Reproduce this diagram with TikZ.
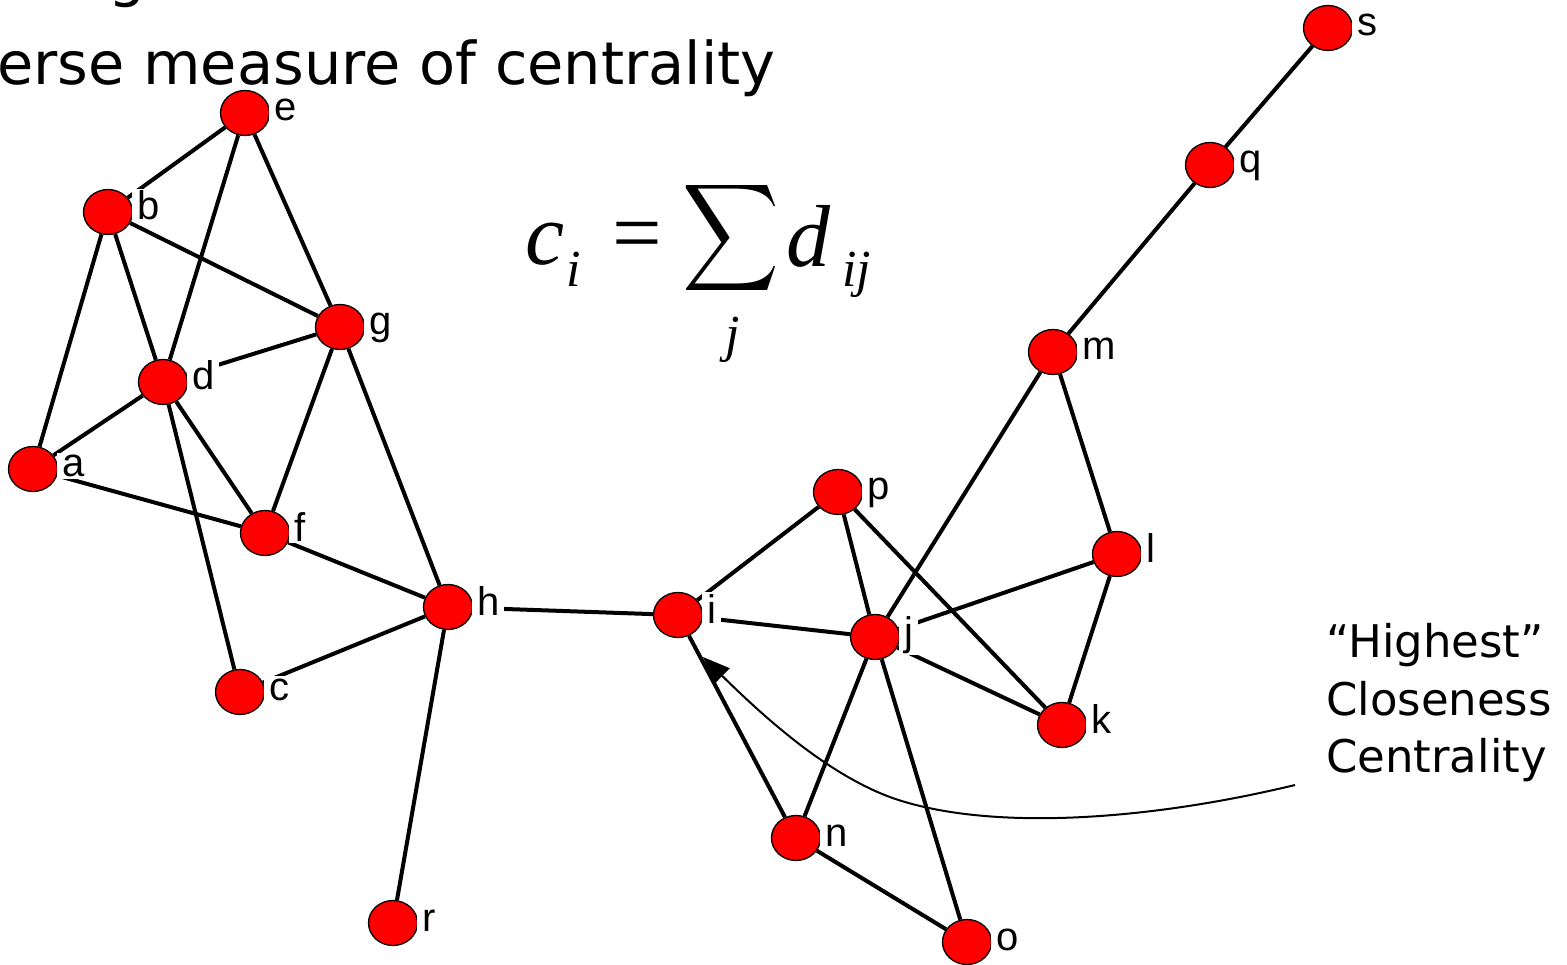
\documentclass[tikz,border=0pt]{standalone}
\usepackage{fontspec}
\setmainfont{Liberation Sans}
\newfontfamily\comicf{DejaVu Sans}
\newfontfamily\tmsf{Liberation Serif}
\usetikzlibrary{arrows.meta,shapes.geometric}
\begin{document}
\begin{tikzpicture}[x=1pt,y=-1pt,
  vertex/.style={shape=ellipse, minimum width=49pt, minimum height=45pt, inner sep=0pt, fill=red, draw=black, line width=1.3pt},
  link/.style={line width=4pt, draw=black},
  lbl/.style={font=\fontsize{40}{42}\selectfont, fill=white, inner xsep=5pt, inner ysep=2pt, anchor=base west},
  bigit/.style={inner sep=0pt, font=\tmsf\itshape\fontsize{88}{90}\selectfont},
  smallit/.style={inner sep=0pt, font=\tmsf\itshape\fontsize{52}{54}\selectfont},
  comic/.style={inner sep=0pt, font=\comicf\fontsize{59}{62}\selectfont},
  notetext/.style={inner sep=0pt, anchor=base west, font=\comicf\fontsize{45}{58}\selectfont},
  pointer/.style={line width=2pt, draw=black, -{Triangle[length=27pt,width=21pt]}}
]
\fill[white] (0,0) rectangle (1567,965);
\useasboundingbox (0,0) rectangle (1567,965);

% title fragments
\node[comic, anchor=base west] (gfrag) at (108,-4) {g};
\node[comic, anchor=base east] (title) at (776,85) {erse measure of centrality};

% formula
\node[bigit, anchor=base west] (fc) at (525,265) {c};
\node[smallit, anchor=base west] (fci) at (566,287) {i};
\node[inner sep=0pt, anchor=base, font=\tmsf\fontsize{88}{90}\selectfont] (feq) at (637,263) {=};
\node[inner sep=0pt] (fsum) at (731,238) {\resizebox*{97pt}{120pt}{$\displaystyle\sum$}};
\node[bigit, anchor=base west] (fd) at (786,267) {d};
\node[smallit, anchor=base west] (fdij) at (842,287) {ij};
\node[smallit, anchor=base] (fj) at (733,352) {j};

% vertices
\node[vertex] (e) at (245,113) {};
\node[vertex] (b) at (108,212) {};
\node[vertex] (g) at (340,327) {};
\node[vertex] (d) at (163,382) {};
\node[vertex] (a) at (33,469) {};
\node[vertex] (f) at (265,533) {};
\node[vertex] (h) at (448,607) {};
\node[vertex] (c) at (240,692) {};
\node[vertex] (r) at (393,923) {};
\node[vertex] (i) at (678,615) {};
\node[vertex] (p) at (838,492) {};
\node[vertex] (j) at (875,637) {};
\node[vertex] (l) at (1117,554) {};
\node[vertex] (m) at (1053,352) {};
\node[vertex] (q) at (1210,165) {};
\node[vertex] (s) at (1328,28) {};
\node[vertex] (k) at (1062,725) {};
\node[vertex] (n) at (796,838) {};
\node[vertex] (o) at (967,942) {};

% edges
\foreach \u/\v in {e/b,e/d,e/g,b/g,b/d,b/a,d/g,d/a,d/f,d/c,g/f,g/h,a/f,f/h,h/c,h/r,h/i,
  i/p,i/j,i/n,p/j,p/k,j/m,j/l,j/k,j/n,j/o,m/l,m/q,q/s,l/k,n/o}
  \draw[link] (\u) -- (\v);

% labels
\foreach \v in {e,b,g,d,a,f,h,c,r,i,p,j,l,m,q,s,k,n,o}
  \node[lbl] (lab\v) at ([shift={(24,8)}]\v.center) {\v};

% note
\node[notetext] (hl1) at (1326,657) {“Highest”};
\node[notetext] (hl2) at (1326,715) {Closeness};
\node[notetext] (hl3) at (1326,772) {Centrality};

\coordinate (astart) at (1295,785);
\coordinate (atip) at (703,657);
\draw[pointer] (astart) .. controls (1150,820) and (1000,830) .. (905,802)
  .. controls (835,782) and (765,718) .. (atip);
\end{tikzpicture}
\end{document}
